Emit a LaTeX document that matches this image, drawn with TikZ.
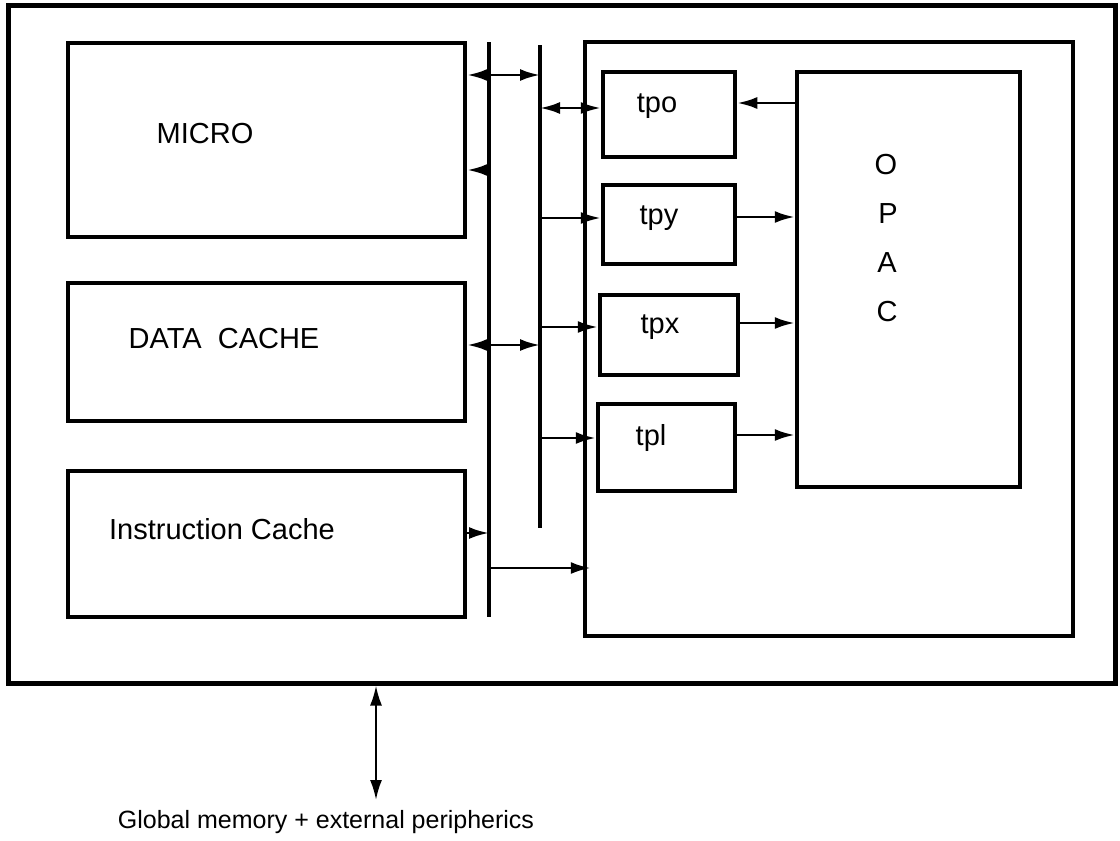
\documentclass[tikz,border=0pt]{standalone}
\usepackage{fontspec}
\setmainfont{Liberation Sans}
\usetikzlibrary{arrows.meta}
\begin{document}
\begin{tikzpicture}[x=1pt,y=-1pt,
  box/.style={draw,line width=4.5pt,inner sep=0pt,minimum width=#1},
  bus/.style={line width=4.5pt},
  conn/.style={line width=2.8pt},
  tipr/.style={conn,-{Latex[length=20pt,width=12pt]}},
  tipb/.style={conn,{Latex[length=20pt,width=12pt]}-{Latex[length=20pt,width=12pt]}},
  lab/.style={font=\fontsize{29}{31}\selectfont,inner sep=0pt},
  glab/.style={font=\fontsize{25}{27}\selectfont,inner sep=0pt}]
\useasboundingbox (0,0) rectangle (1120,841);
% boxes
\node[box=1107pt,minimum height=678pt,line width=5pt] (outer) at (561.5,344) {};
\node[box=397pt,minimum height=194pt] (micro) at (266.5,140) {};
\node[box=397pt,minimum height=138pt] (data) at (266.5,352) {};
\node[box=397pt,minimum height=146pt] (instr) at (266.5,544) {};
\node[box=488pt,minimum height=594pt] (rbox) at (829,339) {};
\node[box=132pt,minimum height=85pt] (tpo) at (669,114.5) {};
\node[box=132pt,minimum height=79pt] (tpy) at (669,224.5) {};
\node[box=138pt,minimum height=80pt] (tpx) at (669,335) {};
\node[box=137pt,minimum height=87pt] (tpl) at (666.5,447.5) {};
\node[box=223pt,minimum height=415pt] (opac) at (908.5,279.5) {};
% labels
\node[lab] (lmicro) at (205,134) {MICRO};
\node[lab] (ldata) at (224,339) {DATA\ \ CACHE};
\node[lab] (linstr) at (222,529) {Instruction Cache};
\node[lab] (ltpo) at (657,106) {tpo};
\node[lab] (ltpy) at (659,218) {tpy};
\node[lab] (ltpx) at (660,327) {tpx};
\node[lab] (ltpl) at (651,438) {tpl};
\node[lab] (lo) at (886,165) {O};
\node[lab] (lp) at (888,214) {P};
\node[lab] (la) at (887,263) {A};
\node[lab] (lc) at (887,312) {C};
\node[glab,anchor=base] (lglob) at (326,828) {Global memory + external peripherics};
% buses
\coordinate (b1t) at (489,42);
\coordinate (b1b) at (489,617);
\coordinate (b2t) at (540,45);
\coordinate (b2b) at (540,528);
\draw[bus] (b1t) -- (b1b);
\draw[bus] (b2t) -- (b2b);
% connectors
\draw[tipb] (micro.east |- 0,75) -- (b2t |- 0,75);
\draw[tipr] (b1t |- 0,170) -- (micro.east |- 0,170);
\draw[tipb] (b2t |- 0,108) -- (tpo.west |- 0,108);
\draw[tipb] (data.east |- 0,345) -- (b2t |- 0,345);
\draw[tipr] (b2t |- 0,218) -- (tpy.west |- 0,218);
\draw[tipr] (b2t |- 0,327) -- (tpx.west |- 0,327);
\draw[tipr] (b2t |- 0,438) -- (tpl.west |- 0,438);
\draw[tipr] (instr.east |- 0,533) -- (b1t |- 0,533);
\draw[tipr,shorten >=-8pt] (b1t |- 0,568) -- (rbox.west |- 0,568);
\draw[tipr] (opac.west |- 0,103) -- (tpo.east |- 0,103);
\draw[tipr] (tpy.east |- 0,217) -- (opac.west |- 0,217);
\draw[tipr] (tpx.east |- 0,323) -- (opac.west |- 0,323);
\draw[tipr] (tpl.east |- 0,435) -- (opac.west |- 0,435);
\coordinate (gm) at (376,800);
\draw[tipb,line width=2.2pt] (outer.south -| gm) -- (gm);
\end{tikzpicture}
\end{document}
